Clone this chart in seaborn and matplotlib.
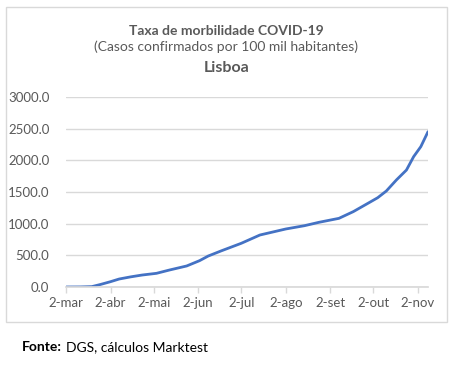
import pandas as pd
import numpy as np
import seaborn as sns
import matplotlib.pyplot as plt
import matplotlib.dates as mdates
from matplotlib.patches import Rectangle

# values (cases per 100k, Lisboa, 2020)
dates = ["2020-03-02", "2020-03-12", "2020-03-20", "2020-03-26", "2020-04-02",
         "2020-04-08", "2020-04-16", "2020-04-24", "2020-05-04", "2020-05-13",
         "2020-05-25", "2020-06-03", "2020-06-09", "2020-06-18", "2020-07-02",
         "2020-07-15", "2020-08-02", "2020-08-15", "2020-08-25", "2020-09-08",
         "2020-09-18", "2020-09-29", "2020-10-05", "2020-10-11", "2020-10-18",
         "2020-10-25", "2020-10-30", "2020-11-04", "2020-11-09"]
rate = [0, 1, 6, 40, 84,
        126, 160, 189, 216, 268,
        332, 416, 489, 570, 690,
        821, 916, 968, 1021, 1084,
        1190, 1332, 1410, 1516, 1690,
        1847, 2058, 2216, 2452]
tick_dates = ["2020-03-02", "2020-04-02", "2020-05-02", "2020-06-02", "2020-07-02",
              "2020-08-02", "2020-09-02", "2020-10-02", "2020-11-02"]
tick_labels = ["2-mar", "2-abr", "2-mai", "2-jun", "2-jul", "2-ago", "2-set", "2-out", "2-nov"]
y_ticks = [0, 500, 1000, 1500, 2000, 2500, 3000]

df = pd.DataFrame({"data": pd.to_datetime(dates), "taxa": rate})

sns.set_theme(style="white")
plt.rcParams['font.family'] = ['Lato', 'DejaVu Sans']
grey = "#595959"

fig = plt.figure(figsize=(4.53, 3.65), dpi=100)
# chart frame
fig.patches.append(Rectangle((6/453, 1-322/365), 441/453, 315/365, transform=fig.transFigure,
                             fill=False, edgecolor="#d9d9d9", linewidth=1))
ax = fig.add_axes([66/453, 1-287/365, (428-66)/453, (287-97)/365])
sns.lineplot(data=df, x="data", y="taxa", ax=ax, color="#4472C4", linewidth=2)

ax.set_xlim(pd.Timestamp("2020-03-02"), pd.Timestamp("2020-11-09"))
ax.set_ylim(0, 3000)
ax.set_yticks(y_ticks)
ax.set_yticklabels([f"{v:.1f}" for v in y_ticks])
ax.set_xticks(mdates.date2num(pd.to_datetime(tick_dates)))
ax.set_xticklabels(tick_labels)
ax.grid(axis="y", color="#d9d9d9", linewidth=1)
ax.set_axisbelow(True)
for s in ["top", "right", "left"]:
    ax.spines[s].set_visible(False)
ax.spines["bottom"].set_color("#d9d9d9")
ax.tick_params(axis="x", colors=grey, labelsize=9.5, length=4, width=1, direction="out",
               color="#d9d9d9", bottom=True, pad=3)
ax.tick_params(axis="y", colors=grey, labelsize=9.5, length=0, pad=12)
ax.set_xlabel("")
ax.set_ylabel("")

fig.text(0.5, 1-31/365, "Taxa de morbilidade COVID-19", ha="center", va="center",
         fontsize=10, fontweight="bold", color=grey)
fig.text(0.5, 1-47/365, "(Casos confirmados por 100 mil habitantes)", ha="center", va="center",
         fontsize=10, color=grey)
fig.text(0.5, 1-68/365, "Lisboa", ha="center", va="center",
         fontsize=11.5, fontweight="bold", color=grey)

# footer: bold label followed directly by the source text
fonte = fig.text(22/453, 1-347/365, "Fonte:", ha="left", va="center", fontsize=10,
                 fontweight="bold", color="black")
fig.canvas.draw()
bb = fonte.get_window_extent().transformed(fig.transFigure.inverted())
fig.text(bb.x1 + 4/453, 1-347/365, "DGS, cálculos Marktest", ha="left", va="center",
         fontsize=10, color="black")

fig.savefig("out.png", dpi=100)
